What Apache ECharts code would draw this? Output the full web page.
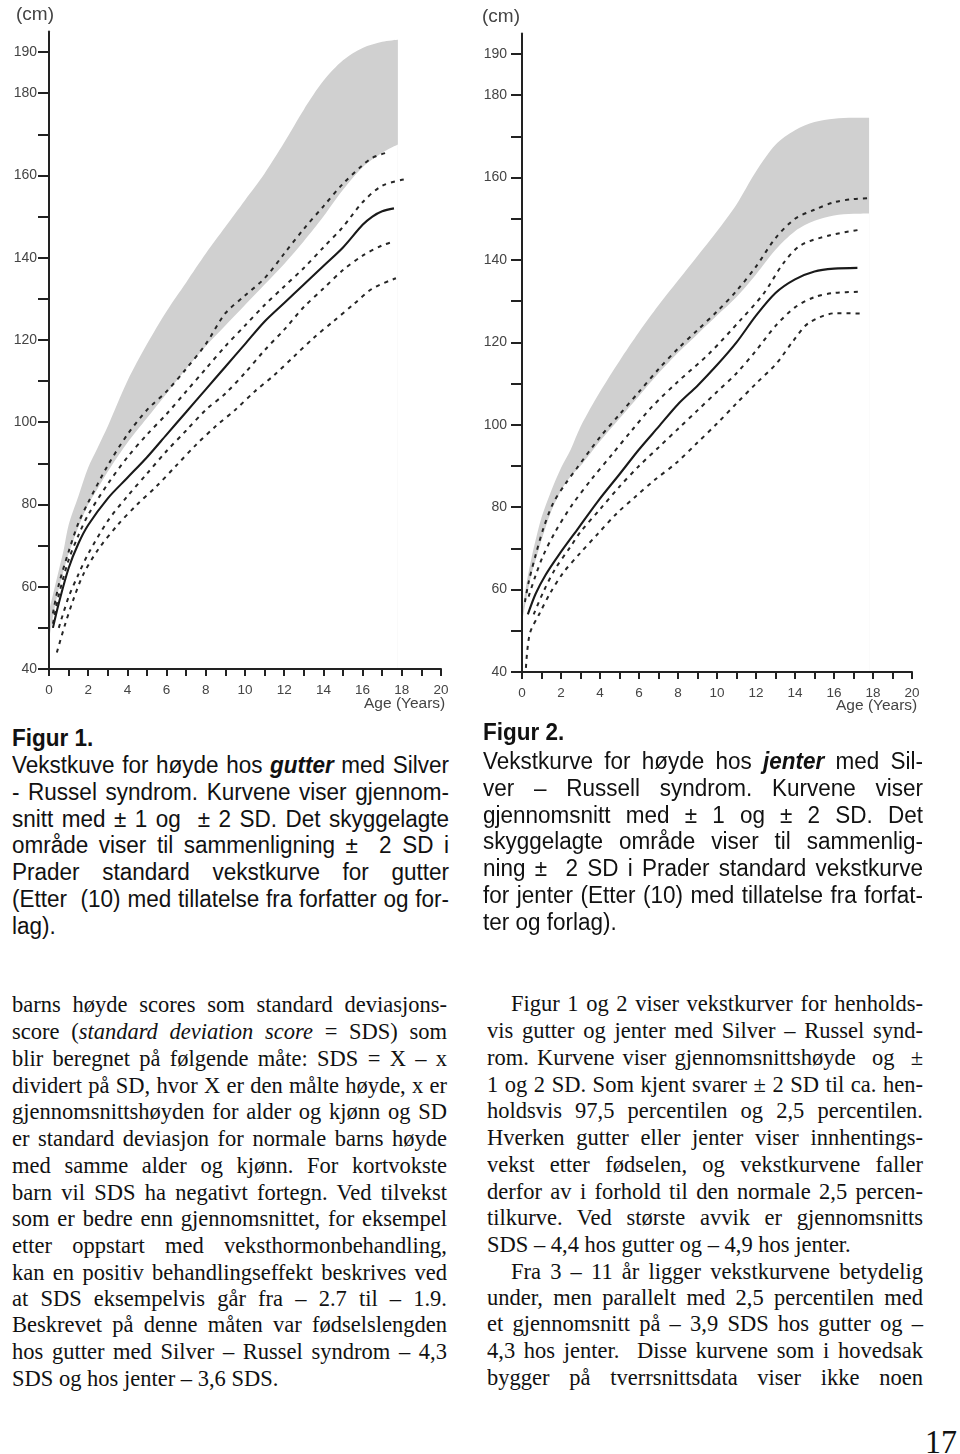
<!DOCTYPE html>
<html><head><meta charset="utf-8">
<script src="https://cdn.jsdelivr.net/npm/echarts@6/dist/echarts.min.js"></script>
<style>
html,body{margin:0;padding:0;background:#fff;}
body{width:960px;height:1454px;position:relative;overflow:hidden;}
#chart{position:absolute;left:0;top:0;width:960px;height:720px;}
.blk{position:absolute;transform:scaleY(1.07);transform-origin:0 0;color:#111;}
.cap{font-family:"Liberation Sans",Arial,sans-serif;font-size:22.5px;line-height:24.95px;}
.bt{font-family:"Liberation Serif","Times New Roman",serif;font-size:22.5px;line-height:24.95px;}
.j{text-align:justify;text-align-last:justify;}
.l{text-align:left;}
.ind{text-indent:24px;}
</style></head><body>
<div id="chart"></div>

<div class="blk cap" style="left:12px;top:726px;width:437px;">
<div class="l"><b>Figur 1.</b></div>
<div class="j">Vekstkuve for høyde hos <b><i>gutter</i></b> med Silver</div>
<div class="j">- Russel syndrom. Kurvene viser gjennom-</div>
<div class="j">snitt med ± 1 og &nbsp;± 2 SD. Det skyggelagte</div>
<div class="j">område viser til sammenligning ± &nbsp;2 SD i</div>
<div class="j">Prader standard vekstkurve for gutter</div>
<div class="j">(Etter &nbsp;(10) med tillatelse fra forfatter og for-</div>
<div class="l">lag).</div>
</div>

<div class="blk cap" style="left:483px;top:722px;width:440px;">
<div class="l" style="position:relative;top:-2px;"><b>Figur 2.</b></div>
<div class="j">Vekstkurve for høyde hos <b><i>jenter</i></b> med Sil-</div>
<div class="j">ver – Russell syndrom. Kurvene viser</div>
<div class="j">gjennomsnitt med ± 1 og ± 2 SD. Det</div>
<div class="j">skyggelagte område viser til sammenlig-</div>
<div class="j">ning ± &nbsp;2 SD i Prader standard vekstkurve</div>
<div class="j">for jenter (Etter (10) med tillatelse fra forfat-</div>
<div class="l">ter og forlag).</div>
</div>

<div class="blk bt" style="left:12px;top:992px;width:435px;">
<div class="j">barns høyde scores som standard deviasjons-</div>
<div class="j">score (<i>standard deviation score</i> = SDS) som</div>
<div class="j">blir beregnet på følgende måte: SDS = X – x</div>
<div class="j">dividert på SD, hvor X er den målte høyde, x er</div>
<div class="j">gjennomsnittshøyden for alder og kjønn og SD</div>
<div class="j">er standard deviasjon for normale barns høyde</div>
<div class="j">med samme alder og kjønn. For kortvokste</div>
<div class="j">barn vil SDS ha negativt fortegn. Ved tilvekst</div>
<div class="j">som er bedre enn gjennomsnittet, for eksempel</div>
<div class="j">etter oppstart med veksthormonbehandling,</div>
<div class="j">kan en positiv behandlingseffekt beskrives ved</div>
<div class="j">at SDS eksempelvis går fra – 2.7 til – 1.9.</div>
<div class="j">Beskrevet på denne måten var fødselslengden</div>
<div class="j">hos gutter med Silver – Russel syndrom – 4,3</div>
<div class="l">SDS og hos jenter – 3,6 SDS.</div>
</div>

<div class="blk bt" style="left:487px;top:991px;width:436px;">
<div class="j ind">Figur 1 og 2 viser vekstkurver for henholds-</div>
<div class="j">vis gutter og jenter med Silver – Russel synd-</div>
<div class="j">rom. Kurvene viser gjennomsnittshøyde &nbsp;og &nbsp;±</div>
<div class="j">1 og 2 SD. Som kjent svarer ± 2 SD til ca. hen-</div>
<div class="j">holdsvis 97,5 percentilen og 2,5 percentilen.</div>
<div class="j">Hverken gutter eller jenter viser innhentings-</div>
<div class="j">vekst etter fødselen, og vekstkurvene faller</div>
<div class="j">derfor av i forhold til den normale 2,5 percen-</div>
<div class="j">tilkurve. Ved største avvik er gjennomsnitts</div>
<div class="l">SDS – 4,4 hos gutter og – 4,9 hos jenter.</div>
<div class="j ind">Fra 3 – 11 år ligger vekstkurvene betydelig</div>
<div class="j">under, men parallelt med 2,5 percentilen med</div>
<div class="j">et gjennomsnitt på – 3,9 SDS hos gutter og –</div>
<div class="j">4,3 hos jenter. &nbsp;Disse kurvene som i hovedsak</div>
<div class="j">bygger på tverrsnittsdata viser ikke noen</div>
</div>

<div class="blk bt" style="left:925px;top:1424px;font-size:32px;line-height:32px;">17</div>

<script>
// ---------- axis ticks / labels ----------
const ageTicks = [0,1,2,3,4,5,6,7,8,9,10,11,12,13,14,15,16,17,18,19,20];
const ageLabels = [0,2,4,6,8,10,12,14,16,18,20];
const cmTicks = [40,50,60,70,80,90,100,110,120,130,140,150,160,170,180,190];
const cmLabels = [40,60,80,100,120,140,160,180,190];

// ---------- Prader reference band (±2 SD), shaded ----------
const praderAges = [0,0.25,0.5,0.75,1,1.5,2,2.5,3,4,5,6,7,8,9,10,11,12,13,14,15,16,17,17.8];
const boysPraderUpper = [54,59,64,69,75,82,89,94,99,110,119,127,134,141,147.5,154,160.5,168,176,183,188,191,192.5,193];
const boysPraderLower = [47,54,59.5,64,68,74.5,80,84,88,95,101,107,113,118.5,123.5,128.5,133.5,138.5,144,150,156.5,162,165.5,167.5];
const girlsPraderUpper = [54,62,68,73,77.5,84,89.5,94,99.5,108,115.5,122.5,129,135,141,147,153.5,161.5,168,171.5,173.5,174.3,174.5,174.5];
const girlsPraderLower = [52,58.5,64,68,72,79,84,87.5,90,96,101.5,107,112.5,117.5,122,126.5,131,136.5,142.5,147,149.5,150.8,151.2,151.3];

// ---------- Silver-Russell boys ----------
const boysP2Ages = [0.2,0.5,1,1.5,2,3,4,5,6,7,8,9,10,11,12,13,14,15,16,16.5,17.2];
const boysP2 = [53.5,60.5,68.5,75.5,80.5,89.5,97,103,107.5,113,119,126.5,130.8,135,141,147,152.5,158,162.5,164.3,165.5];
const boysP1Ages = [0.2,0.5,1,1.5,2,3,4,5,6,7,8,9,10,11,12,13,14,15,16,17,18.1];
const boysP1 = [51,58,66.5,72.5,77.5,85,91.5,97,102,107.5,113,118.5,123.5,128.5,133,137.5,142.5,147.5,153.5,157.5,159];
const boysMeanAges = [0.2,0.5,1,1.5,2,3,4,5,6,7,8,9,10,11,12,13,14,15,16,16.5,17,17.6];
const boysMean = [50,56,64.5,70.5,75,81.5,86.5,91.5,97,102.5,108,113.5,119,124.5,129,133.5,138,142.5,148,150,151.3,152];
const boysM1Ages = [0.5,1,1.5,2,3,4,5,6,7,8,9,10,11,12,13,14,15,16,17,17.5];
const boysM1 = [50,57.5,63,68,76,82,87.5,93,98,103,107,112,117.5,122.5,128,132.5,137,140.5,143,143.8];
const boysM2Ages = [0.4,0.8,1.25,1.75,2.5,3.5,4.5,5.5,6.5,7.5,8.5,9.5,10.5,11.5,12.5,13.5,14.5,15.5,16.5,17.7];
const boysM2 = [44,50.5,57,63,69,75,80,84.5,89.5,94.5,99,103,107.5,111.5,116,120.5,124.5,128.5,132.5,135];

// ---------- Silver-Russell girls ----------
const girlsP2Ages = [0.15,0.35,0.7,1.1,1.6,2.2,2.8,4,5,6,7,8,9,10,11,12,13,14,15,16,17,17.85];
const girlsP2 = [57,62,68.4,74.9,81,85.5,89.4,97,102.5,108,113.5,118.5,123,127.5,132.5,138.4,145.3,150,152.2,154,154.8,155];
const girlsP1Ages = [0.34,0.68,1.1,1.7,2.56,3.6,4.6,5.64,6.67,8,9.6,11.2,12.4,13.4,14.3,15.8,17.4];
const girlsP1 = [58.3,63.2,68.4,74,80.5,87,92.7,98.7,104.4,110.5,117.3,125.4,131.9,139.2,143.6,146,147.4];
const girlsMeanAges = [0.3,0.7,1.2,1.9,2.9,3.9,5,6,7,8,9,10,11,12,13,14,15,16,17.2];
const girlsMean = [54,59,63.5,68.5,75,81.5,88,94,99.5,105,109.5,114.5,120,126.5,132,135.3,137.2,137.9,138.1];
const girlsM1Ages = [0.6,1.1,1.7,2.5,3,4,5,6,7,8,9,10,11,12,13,14,15,16,17.4];
const girlsM1 = [54,59.5,65,70.5,74,79.5,85,90,94.5,99,103.5,108,112.5,118,124,128.5,131,132,132.3];
const girlsM2Ages = [0.2,0.4,0.9,1.44,2.1,2.97,3.9,4.86,5.8,6.8,7.9,8.96,10,11,12,13.05,13.9,14.7,16.1,17.4];
const girlsM2 = [41,49.3,54.2,59.1,64,68.8,73.6,78.5,82.5,86.6,90.7,95.5,100.3,105.2,110,114.9,120.3,124.7,127.1,127];

// ---------- helpers ----------
const zip = (a, v) => a.map((x, i) => [x, v[i]]);
const INK = '#262626';
// shaded band: grey area down to the axis from the upper edge, covered in white below the lower edge
function band(idx, lower, upper) {
  return [
    { type:'line', xAxisIndex:idx, yAxisIndex:idx, smooth:0.3, symbol:'none', silent:true, z:1,
      lineStyle:{width:0, opacity:0}, areaStyle:{color:'#d0d0d0', opacity:1, origin:'start'},
      data: zip(praderAges, upper) },
    { type:'line', xAxisIndex:idx, yAxisIndex:idx, smooth:0.3, symbol:'none', silent:true, z:2,
      lineStyle:{width:0, opacity:0}, areaStyle:{color:'#ffffff', opacity:1, origin:'start'},
      data: zip(praderAges, lower) }
  ];
}
function curve(idx, ages, vals, dashed) {
  return { type:'line', xAxisIndex:idx, yAxisIndex:idx, smooth:0.3, symbol:'none', silent:true, z:3,
    lineStyle: dashed ? {color:INK, width:2, type:[4,5], cap:'butt'} : {color:'#1a1a1a', width:2.1},
    data: zip(ages, vals) };
}
function xAx(idx) {
  return { type:'value', gridIndex:idx, min:0, max:20, z:6,
    axisLine:{show:true, onZero:false, lineStyle:{color:'#222', width:2}},
    axisTick:{show:true, length:7, customValues:ageTicks, lineStyle:{color:'#222', width:2}},
    axisLabel:{customValues:ageLabels, margin:14, fontSize:13.5, color:'#444', fontFamily:'Liberation Sans'},
    splitLine:{show:false} };
}
function yAx(idx, margin) {
  return { type:'value', gridIndex:idx, min:40, max:195, z:6,
    axisLine:{show:true, onZero:false, lineStyle:{color:'#222', width:2}},
    axisTick:{show:true, length:11, customValues:cmTicks, lineStyle:{color:'#222', width:2}},
    axisLabel:{customValues:cmLabels, margin:margin, fontSize:14, color:'#444', fontFamily:'Liberation Sans'},
    splitLine:{show:false} };
}

const chart = echarts.init(document.getElementById('chart'), null, {renderer:'canvas'});
chart.setOption({
  animation:false,
  backgroundColor:'#fff',
  grid:[
    {left:49, top:31.5, width:392, height:637.5},
    {left:522, top:33.4, width:390, height:638.6}
  ],
  xAxis:[xAx(0), xAx(1)],
  yAxis:[yAx(0, 12), yAx(1, 15)],
  graphic:[
    {type:'text', left:16, top:5, style:{text:'(cm)', fill:'#444', fontSize:19, fontFamily:'Liberation Sans'}},
    {type:'text', left:364, top:696, style:{text:'Age (Years)', fill:'#444', fontSize:15.5, fontFamily:'Liberation Sans'}},
    {type:'text', left:482, top:7, style:{text:'(cm)', fill:'#444', fontSize:19, fontFamily:'Liberation Sans'}},
    {type:'text', left:836, top:698, style:{text:'Age (Years)', fill:'#444', fontSize:15.5, fontFamily:'Liberation Sans'}}
  ],
  series:[
    ...band(0, boysPraderLower, boysPraderUpper),
    curve(0, boysP2Ages, boysP2, true),
    curve(0, boysP1Ages, boysP1, true),
    curve(0, boysMeanAges, boysMean, false),
    curve(0, boysM1Ages, boysM1, true),
    curve(0, boysM2Ages, boysM2, true),
    ...band(1, girlsPraderLower, girlsPraderUpper),
    curve(1, girlsP2Ages, girlsP2, true),
    curve(1, girlsP1Ages, girlsP1, true),
    curve(1, girlsMeanAges, girlsMean, false),
    curve(1, girlsM1Ages, girlsM1, true),
    curve(1, girlsM2Ages, girlsM2, true)
  ]
});
</script>
</body></html>
